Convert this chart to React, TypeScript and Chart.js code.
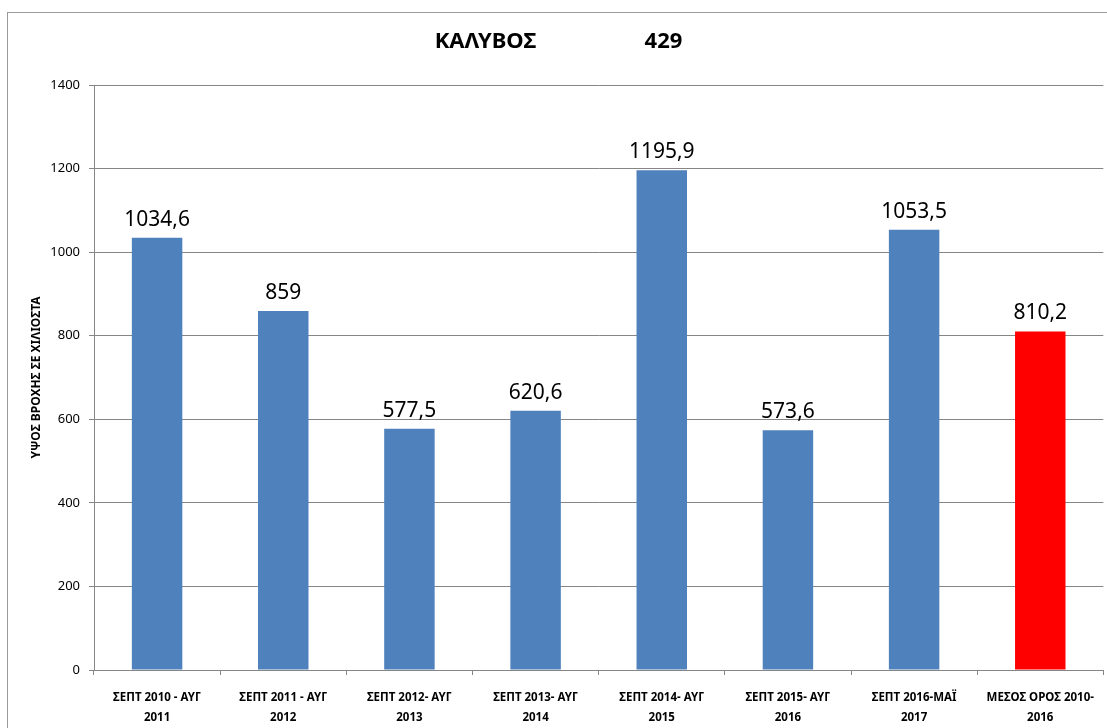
import React, { useEffect, useRef } from "react";
import { Chart, registerables } from "chart.js";

Chart.register(...registerables);

const titleName = "ΚΑΛΥΒΟΣ";
const titleCode = "429";
const yAxisTitle = "ΥΨΟΣ ΒΡΟΧΗΣ ΣΕ ΧΙΛΙΟΣΤΑ";
const categories: string[][] = [
  ["ΣΕΠΤ 2010 - ΑΥΓ", "2011"],
  ["ΣΕΠΤ 2011 - ΑΥΓ", "2012"],
  ["ΣΕΠΤ 2012- ΑΥΓ", "2013"],
  ["ΣΕΠΤ 2013- ΑΥΓ", "2014"],
  ["ΣΕΠΤ 2014- ΑΥΓ", "2015"],
  ["ΣΕΠΤ 2015- ΑΥΓ", "2016"],
  ["ΣΕΠΤ 2016-ΜΑΪ", "2017"],
  ["ΜΕΣΟΣ ΟΡΟΣ 2010-", "2016"],
];
const rainfall: number[] = [1034.6, 859, 577.5, 620.6, 1195.9, 573.6, 1053.5, 810.2];
const barColors: string[] = ["#4F81BD", "#4F81BD", "#4F81BD", "#4F81BD", "#4F81BD", "#4F81BD", "#4F81BD", "#FF0000"];
const yMin = 0;
const yMax = 1400;
const yStep = 200;

const FONT = "'Noto Sans', 'Open Sans', sans-serif";

const labelsPlugin = {
  id: "customText",
  afterDatasetsDraw(chart: any) {
    const ctx = chart.ctx;
    const meta = chart.getDatasetMeta(0);
    ctx.save();
    ctx.fillStyle = "#000";
    ctx.font = `21px ${FONT}`;
    ctx.textAlign = "center";
    ctx.textBaseline = "alphabetic";
    meta.data.forEach((bar: any, i: number) => {
      const txt = String(rainfall[i]).replace(".", ",");
      ctx.fillText(txt, bar.x, bar.y - 12);
    });
    // title
    ctx.font = `bold 22px ${FONT}`;
    ctx.textBaseline = "middle";
    const cx = chart.width / 2;
    ctx.fillText(titleName, cx - 68, 42);
    ctx.fillText(titleCode, cx + 110, 42);
    ctx.restore();
  },
};

export default function App() {
  const ref = useRef<HTMLCanvasElement | null>(null);
  useEffect(() => {
    if (!ref.current) return;
    const chart = new Chart(ref.current, {
      type: "bar",
      data: {
        labels: categories,
        datasets: [
          {
            data: rainfall,
            backgroundColor: barColors,
            borderWidth: 0,
            categoryPercentage: 1,
            barPercentage: 0.4,
          },
        ],
      },
      options: {
        animation: false,
        responsive: false,
        maintainAspectRatio: false,
        layout: { padding: { top: 85, right: 1, left: 0, bottom: 0 } },
        plugins: {
          legend: { display: false },
          tooltip: { enabled: false },
          title: { display: false },
        },
        scales: {
          x: {
            offset: true,
            afterFit: (s: any) => {
              s.height = 58;
            },
            grid: {
              offset: true,
              drawOnChartArea: false,
              drawTicks: true,
              tickLength: 5,
              color: "#868686",
            },
            border: { color: "#868686" },
            ticks: {
              color: "#000",
              padding: 13,
              maxRotation: 0,
              autoSkip: false,
              font: { family: FONT, size: 11.5, weight: "bold", lineHeight: 1.74 },
            },
          },
          y: {
            min: yMin,
            max: yMax,
            afterFit: (s: any) => {
              s.width = 94;
            },
            grid: { color: "#868686", tickLength: 5 },
            border: { color: "#868686" },
            ticks: {
              stepSize: yStep,
              color: "#000",
              padding: 9,
              font: { family: FONT, size: 13 },
              callback: (v: any) => String(v),
            },
            title: {
              display: true,
              text: yAxisTitle,
              color: "#000",
              padding: { top: 29, bottom: 0 },
              font: { family: FONT, size: 12, weight: "bold" },
            },
          },
        },
      },
      plugins: [labelsPlugin],
    });
    return () => chart.destroy();
  }, []);

  return (
    <div
      style={{
        position: "fixed",
        left: 0,
        top: 0,
        width: 1107,
        height: 728,
        overflow: "hidden",
        background: "#fff",
      }}
    >
      <canvas ref={ref} width={1107} height={728} style={{ position: "absolute", left: 0, top: 0 }} />
      <div
        style={{
          position: "absolute",
          left: 7,
          top: 12,
          width: 1130,
          height: 760,
          border: "1px solid #9a9a9a",
          pointerEvents: "none",
        }}
      />
    </div>
  );
}
